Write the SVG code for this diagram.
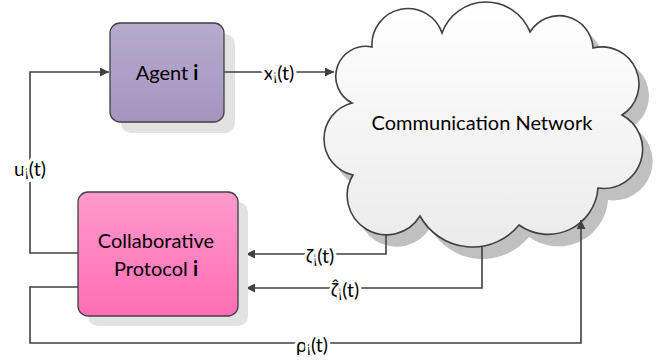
<svg xmlns="http://www.w3.org/2000/svg" width="667" height="363" viewBox="0 0 667 363">
<defs>
<linearGradient id="gAgent" x1="0" y1="0" x2="0" y2="1">
<stop offset="0" stop-color="#b6aacd"/>
<stop offset="1" stop-color="#a595be"/>
</linearGradient>
<linearGradient id="gProt" x1="0" y1="0" x2="0" y2="1">
<stop offset="0" stop-color="#ff9acc"/>
<stop offset="1" stop-color="#ff6db4"/>
</linearGradient>
<linearGradient id="gCloud" x1="0" y1="0" x2="0" y2="1">
<stop offset="0" stop-color="#ffffff"/>
<stop offset="1" stop-color="#ebebeb"/>
</linearGradient>
<marker id="arr" markerUnits="userSpaceOnUse" markerWidth="10" markerHeight="9" refX="9" refY="4.5" orient="auto">
<path d="M0,0 L9,4.5 L0,9 z" fill="#404040"/>
</marker>
<path id="cloudShape" d="M352,103 A30,30 0 0 1 372,47 A36,36 0 0 1 442,33 A47,47 0 0 1 530,32 A34,34 0 0 1 593,48 A37,37 0 0 1 622,115 A39,39 0 0 1 598,188 A50,50 0 0 1 519,225 A60,60 0 0 1 420,216 A39,39 0 0 1 353,175 A37,37 0 0 1 352,103 Z"/>
</defs>
<style>
.box{stroke:#404040;stroke-width:1.3}
.shadow{fill:#e2e2e2}
.wire{fill:none;stroke:#404040;stroke-width:1.6}
.t{font-family:Lato,"Noto Sans","DejaVu Sans",sans-serif;font-size:20px;fill:#000}
.lbl{font-family:Lato,"Noto Sans","DejaVu Sans",sans-serif;font-size:19.5px;fill:#000;stroke:#fff;stroke-width:6;paint-order:stroke;text-anchor:middle}
.sub{font-size:16px}
</style>

<g id="cloud-shadow">
<use href="#cloudShape" transform="translate(10,12)" fill="#c0c0c0"/>
</g>

<g id="connectors-under">
<polyline class="wire" points="386,225 386,254 246,254" marker-end="url(#arr)"/>
<polyline class="wire" points="482,235 482,288 246,288" marker-end="url(#arr)"/>
</g>

<g id="network">
<use href="#cloudShape" fill="url(#gCloud)" stroke="#404040" stroke-width="1.6"/>
<text class="t" x="482" y="130" text-anchor="middle">Communication Network</text>
</g>

<g id="agent">
<rect class="shadow" x="121" y="34" width="114" height="99" rx="10"/>
<rect class="box" x="110" y="23" width="114" height="99" rx="10" fill="url(#gAgent)"/>
<text class="t" x="167" y="80" text-anchor="middle">Agent <tspan font-weight="bold">i</tspan></text>
</g>

<g id="protocol">
<rect class="shadow" x="88" y="202" width="160" height="124" rx="10"/>
<rect class="box" x="78" y="192" width="160" height="124" rx="10" fill="url(#gProt)"/>
<text class="t" x="156" y="248" text-anchor="middle">Collaborative</text>
<text class="t" x="156" y="276" text-anchor="middle">Protocol <tspan font-weight="bold">i</tspan></text>
</g>

<g id="connectors">
<polyline class="wire" points="224,72 334,72" marker-end="url(#arr)"/>
<polyline class="wire" points="78,253 30,253 30,72 109,72" marker-end="url(#arr)"/>
<polyline class="wire" points="78,287 30,287 30,343 581,343 581,220" marker-end="url(#arr)"/>
<text class="lbl" x="279" y="80">x<tspan class="sub" dy="3">i</tspan><tspan dy="-3">(t)</tspan></text>
<text class="lbl" x="30" y="176">u<tspan class="sub" dy="3">i</tspan><tspan dy="-3">(t)</tspan></text>
<text class="lbl" x="320" y="263">ζ<tspan class="sub" dy="3">i</tspan><tspan dy="-3">(t)</tspan></text>
<text class="lbl" x="345" y="297">ζ̂<tspan class="sub" dy="3">i</tspan><tspan dy="-3">(t)</tspan></text>
<text class="lbl" x="312" y="352">ρ<tspan class="sub" dy="3">i</tspan><tspan dy="-3">(t)</tspan></text>
</g>
</svg>
